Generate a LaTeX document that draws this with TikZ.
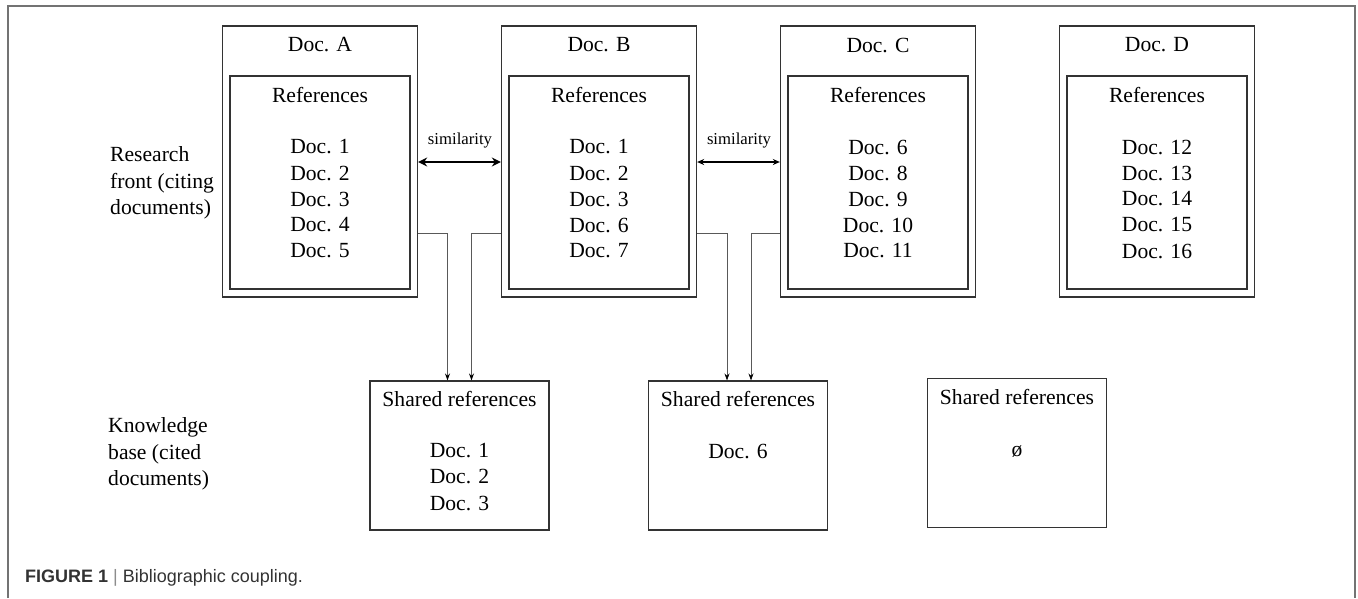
\documentclass[tikz,border=0pt]{standalone}
\usepackage{fontspec}
\setmainfont{Liberation Serif}
\newfontfamily\capfont{Liberation Sans}
\usetikzlibrary{arrows.meta,positioning}

\begin{document}
\begin{tikzpicture}[x=1pt,y=-1pt,
    every node/.style={font=\fontsize{21.6}{26.5}\selectfont},
    docbox/.style={draw=black!80,line width=1.3pt,inner sep=0pt,
      minimum width=195pt,minimum height=271pt},
    refbox/.style={draw=black!80,line width=1.1pt,inner sep=0pt,
      minimum width=180pt,minimum height=213pt},
    sharedbox/.style={draw=black!80,line width=1.1pt,inner sep=0pt,
      minimum width=179pt,minimum height=149pt},
    link/.style={draw=black!65,line width=0.8pt,
      -{Stealth[length=7pt,width=5pt,black]}}]
    \useasboundingbox (0,0) rectangle (1358,598);

    % Row y-coordinates
    \def\ylink{233}
    \def\ysim{162}

    % Frame
    \draw[black!55,line width=1.2pt] (8,598) -- (8,6) -- (1355,6) -- (1355,598);

    % Citing documents with their reference lists
    \foreach \n/\x/\refs in {A/320/{1,2,3,4,5},B/599/{1,2,3,6,7},
        C/878/{6,8,9,10,11},D/1157/{12,13,14,15,16}} {
      \node[docbox] (doc\n) at (\x,161.5) {};
      \node[refbox] (ref\n) at (\x,182.5) {};
      \node (title\n) at (\x,45) {Doc. \n};
      \node (head\n) at (\x,95) {References};
      \foreach \r [count=\k] in \refs {
        \node (item\n\k) at (\x,{147+26*(\k-1)}) {Doc. \r};
      }
    }

    % Shared references
    \node[sharedbox] (sAB) at (459.5,455.5) {};
    \node[sharedbox] (sBC) at (738,455.5) {};
    \node[sharedbox] (sCD) at (1017,453) {};
    \node (hAB) at (459.5,399) {Shared references};
    \node (hBC) at (738,399) {Shared references};
    \node (hCD) at (1017,397) {Shared references};
    \node[align=center] (cAB) at (459.5,477) {Doc. 1\\Doc. 2\\Doc. 3};
    \node (cBC) at (738,451) {Doc. 6};
    \node (cCD) at (1017,452) {ø};

    % Row labels
    \node[anchor=west,align=left,inner sep=0pt] (front) at (110,183)
      {Research\\front (citing\\documents)};
    \node[anchor=west,align=left,inner sep=0pt] (base) at (108,454)
      {Knowledge\\base (cited\\documents)};

    % Similarity arrows
    \draw[line width=2.6pt,{Stealth[length=9pt,width=9pt]}-{Stealth[length=9pt,width=9pt]}]
      (docA.east |- 0,\ysim) -- (docB.west |- 0,\ysim);
    \draw[line width=1.2pt,{Stealth[length=7pt,width=6pt]}-{Stealth[length=7pt,width=6pt]}]
      (docB.east |- 0,\ysim) -- (docC.west |- 0,\ysim);
    \node[font=\fontsize{16.7}{20}\selectfont] (simAB) at (460,141) {similarity};
    \node[font=\fontsize{16.7}{20}\selectfont] (simBC) at (739,141) {similarity};

    % Links to shared references
    \draw[link] (docA.east |- 0,\ylink) -| ([xshift=-12pt]sAB.north);
    \draw[link] (docB.west |- 0,\ylink) -| ([xshift=12pt]sAB.north);
    \draw[link] (docB.east |- 0,\ylink) -| ([xshift=-11pt]sBC.north);
    \draw[link] (docC.west |- 0,\ylink) -| ([xshift=13pt]sBC.north);

    % Caption
    \node[anchor=west,inner sep=0pt,text=black!80,
      font=\capfont\fontsize{18}{22}\selectfont] (caption) at (25,578)
      {\textbf{FIGURE 1} {\color{black!45}|} Bibliographic coupling.};
  \end{tikzpicture}
\end{document}
